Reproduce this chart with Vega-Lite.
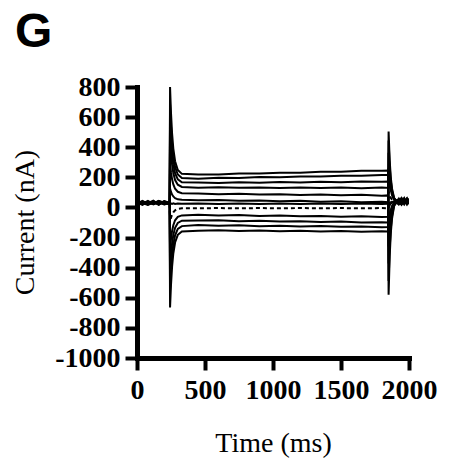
{
  "$schema": "https://vega.github.io/schema/vega-lite/v6.json",
  "autosize": "none",
  "width": 272,
  "height": 271,
  "padding": {"left": 137, "top": 87, "right": 48, "bottom": 110},
  "background": "white",
  "config": {"view": {"stroke": null}},
  "title": {
    "text": "G",
    "font": "Liberation Sans",
    "fontSize": 48,
    "fontWeight": "bold",
    "color": "black",
    "anchor": "start",
    "frame": "group",
    "dx": -122,
    "dy": 14,
    "offset": 30
  },
  "data": {
    "values": [
      {"t": 0, "a": 30, "b": 18, "c": 35, "d": 24, "e": 40, "f": 21, "g": 28, "i": 33, "j": 26, "k": 38, "l": 19},
      {"t": 40, "a": 22, "b": 40, "c": 26, "d": 38, "e": 20, "f": 34, "g": 31, "i": 17, "j": 43, "k": 29, "l": 36},
      {"t": 80, "a": 38, "b": 25, "c": 44, "d": 19, "e": 33, "f": 28, "g": 22, "i": 40, "j": 23, "k": 16, "l": 31},
      {"t": 120, "a": 26, "b": 36, "c": 20, "d": 41, "e": 24, "f": 45, "g": 35, "i": 28, "j": 37, "k": 32, "l": 23},
      {"t": 160, "a": 35, "b": 22, "c": 32, "d": 28, "e": 43, "f": 19, "g": 26, "i": 36, "j": 18, "k": 40, "l": 42},
      {"t": 200, "a": 20, "b": 42, "c": 27, "d": 35, "e": 25, "f": 38, "g": 30, "i": 21, "j": 41, "k": 24, "l": 33},
      {"t": 240, "a": 28, "b": 30, "c": 24, "d": 32, "e": 26, "f": 22, "g": 25, "h": 25, "i": 27, "j": 29, "k": 31, "l": 23},
      {"t": 243, "a": 800, "b": 685, "c": 573, "d": 453, "e": 293, "f": 125, "g": 25, "h": -95, "i": -275, "j": -411, "k": -547, "l": -665},
      {"t": 250, "a": 627, "b": 539, "c": 452, "d": 358, "e": 234, "f": 103, "g": 26, "h": -68, "i": -209, "j": -315, "k": -420, "l": -514},
      {"t": 258, "a": 491, "b": 424, "c": 356, "d": 284, "e": 187, "f": 85, "g": 24, "h": -47, "i": -156, "j": -238, "k": -320, "l": -394},
      {"t": 267, "a": 391, "b": 339, "c": 286, "d": 229, "e": 153, "f": 73, "g": 27, "h": -32, "i": -118, "j": -182, "k": -247, "l": -306},
      {"t": 280, "a": 307, "b": 268, "c": 227, "d": 182, "e": 124, "f": 62, "g": 23, "h": -19, "i": -85, "j": -135, "k": -185, "l": -233},
      {"t": 300, "a": 249, "b": 219, "c": 186, "d": 151, "e": 104, "f": 54, "g": 26, "h": -10, "i": -63, "j": -103, "k": -143, "l": -182},
      {"t": 330, "a": 223, "b": 196, "c": 167, "d": 136, "e": 95, "f": 51, "g": 25, "h": -6, "i": -53, "j": -88, "k": -124, "l": -159},
      {"t": 450, "a": 219, "b": 191, "c": 165, "d": 130, "e": 93, "f": 47, "g": 27, "h": -6, "i": -49, "j": -87, "k": -117, "l": -155},
      {"t": 600, "a": 219, "b": 197, "c": 162, "d": 134, "e": 88, "f": 49, "g": 23, "h": -4, "i": -54, "j": -85, "k": -122, "l": -151},
      {"t": 750, "a": 225, "b": 196, "c": 167, "d": 130, "e": 91, "f": 44, "g": 27, "h": -6, "i": -51, "j": -91, "k": -119, "l": -156},
      {"t": 900, "a": 225, "b": 202, "c": 164, "d": 133, "e": 86, "f": 46, "g": 23, "h": -4, "i": -57, "j": -88, "k": -125, "l": -153},
      {"t": 1050, "a": 231, "b": 201, "c": 169, "d": 129, "e": 88, "f": 41, "g": 27, "h": -6, "i": -54, "j": -94, "k": -122, "l": -158},
      {"t": 1200, "a": 231, "b": 206, "c": 166, "d": 133, "e": 83, "f": 44, "g": 23, "h": -4, "i": -59, "j": -91, "k": -127, "l": -155},
      {"t": 1350, "a": 237, "b": 206, "c": 171, "d": 129, "e": 86, "f": 38, "g": 27, "h": -6, "i": -56, "j": -97, "k": -124, "l": -159},
      {"t": 1500, "a": 237, "b": 211, "c": 168, "d": 133, "e": 81, "f": 41, "g": 23, "h": -4, "i": -61, "j": -94, "k": -129, "l": -156},
      {"t": 1650, "a": 243, "b": 211, "c": 173, "d": 128, "e": 84, "f": 35, "g": 27, "h": -6, "i": -58, "j": -100, "k": -126, "l": -161},
      {"t": 1800, "a": 243, "b": 216, "c": 170, "d": 132, "e": 78, "f": 38, "g": 23, "h": -4, "i": -64, "j": -98, "k": -132, "l": -158},
      {"t": 1846, "a": 245, "b": 215, "c": 172, "d": 130, "e": 80, "f": 35, "g": 25, "h": -5, "i": -62, "j": -100, "k": -130, "l": -160},
      {"t": 1850, "a": -580, "b": -488, "c": -372, "d": -259, "e": -124, "f": -2, "g": 25, "h": 106, "i": 260, "j": 363, "k": 444, "l": 505},
      {"t": 1858, "a": -324, "b": -270, "c": -202, "d": -136, "e": -56, "f": 15, "g": 31, "h": 79, "i": 169, "j": 230, "k": 277, "l": 313},
      {"t": 1866, "a": -173, "b": -142, "c": -102, "d": -63, "e": -16, "f": 26, "g": 35, "h": 63, "i": 116, "j": 151, "k": 179, "l": 200},
      {"t": 1875, "a": -75, "b": -58, "c": -36, "d": -15, "e": 10, "f": 32, "g": 37, "h": 52, "i": 81, "j": 100, "k": 115, "l": 126},
      {"t": 1890, "a": 8, "b": 13, "c": 19, "d": 25, "e": 32, "f": 38, "g": 39, "h": 43, "i": 51, "j": 56, "k": 61, "l": 64},
      {"t": 1905, "a": 31, "b": 33, "c": 34, "d": 36, "e": 38, "f": 39, "g": 40, "h": 41, "i": 43, "j": 45, "k": 46, "l": 47},
      {"t": 1925, "a": 22, "b": 58, "c": 30, "d": 50, "e": 26, "f": 45, "g": 38, "i": 55, "j": 20, "k": 48, "l": 35},
      {"t": 1945, "a": 55, "b": 25, "c": 60, "d": 20, "e": 48, "f": 30, "g": 52, "i": 22, "j": 40, "k": 62, "l": 18},
      {"t": 1965, "a": 30, "b": 52, "c": 24, "d": 57, "e": 35, "f": 62, "g": 20, "i": 46, "j": 60, "k": 28, "l": 50},
      {"t": 1985, "a": 58, "b": 20, "c": 50, "d": 28, "e": 60, "f": 25, "g": 45, "i": 33, "j": 26, "k": 54, "l": 40},
      {"t": 2000, "a": 35, "b": 45, "c": 40, "d": 38, "e": 22, "f": 50, "g": 30, "i": 58, "j": 44, "k": 24, "l": 56}
    ]
  },
  "transform": [
    {"fold": ["a", "b", "c", "d", "e", "f", "g", "h", "i", "j", "k", "l"], "as": ["k", "c"]},
    {"filter": "isValid(datum.c)"}
  ],
  "encoding": {
    "x": {
      "field": "t",
      "type": "quantitative",
      "scale": {"domain": [0, 2000], "nice": false, "zero": false},
      "axis": {
        "title": "Time (ms)",
        "values": [0, 500, 1000, 1500, 2000],
        "labelExpr": "'' + datum.value",
        "grid": false,
        "domainColor": "black",
        "domainWidth": 5,
        "domainCap": "square",
        "tickColor": "black",
        "tickWidth": 4,
        "tickSize": 12,
        "labelFont": "Liberation Serif",
        "labelFontWeight": "bold",
        "labelFontSize": 28,
        "labelColor": "black",
        "labelPadding": 6,
        "labelFlush": false,
        "labelOverlap": false,
        "titleFont": "Liberation Serif",
        "titleFontWeight": "normal",
        "titleFontSize": 28,
        "titleColor": "black",
        "titleX": 136,
        "titleY": 93,
        "titleAlign": "center",
        "titleBaseline": "alphabetic"
      }
    },
    "y": {
      "field": "c",
      "type": "quantitative",
      "scale": {"domain": [-1000, 800], "nice": false, "zero": false},
      "axis": {
        "title": "Current (nA)",
        "values": [-1000, -800, -600, -400, -200, 0, 200, 400, 600, 800],
        "labelExpr": "'' + datum.value",
        "grid": false,
        "domainColor": "black",
        "domainWidth": 5,
        "domainCap": "square",
        "tickColor": "black",
        "tickWidth": 4,
        "tickSize": 12,
        "labelFont": "Liberation Serif",
        "labelFontWeight": "bold",
        "labelFontSize": 28,
        "labelColor": "black",
        "labelPadding": 5,
        "labelFlush": false,
        "labelOverlap": false,
        "titleFont": "Liberation Serif",
        "titleFontWeight": "normal",
        "titleFontSize": 28,
        "titleColor": "black",
        "titleX": -112,
        "titleY": 135,
        "titleAlign": "center",
        "titleBaseline": "middle",
        "titleAngle": -90
      }
    },
    "detail": {"field": "k", "type": "nominal"}
  },
  "layer": [
    {
      "transform": [{"filter": "datum.k != 'h'"}],
      "mark": {"type": "line", "color": "black", "strokeWidth": 2, "clip": true}
    },
    {
      "transform": [{"filter": "datum.k == 'h'"}],
      "mark": {"type": "line", "color": "black", "strokeWidth": 2, "strokeDash": [4, 3], "clip": true}
    }
  ]
}
